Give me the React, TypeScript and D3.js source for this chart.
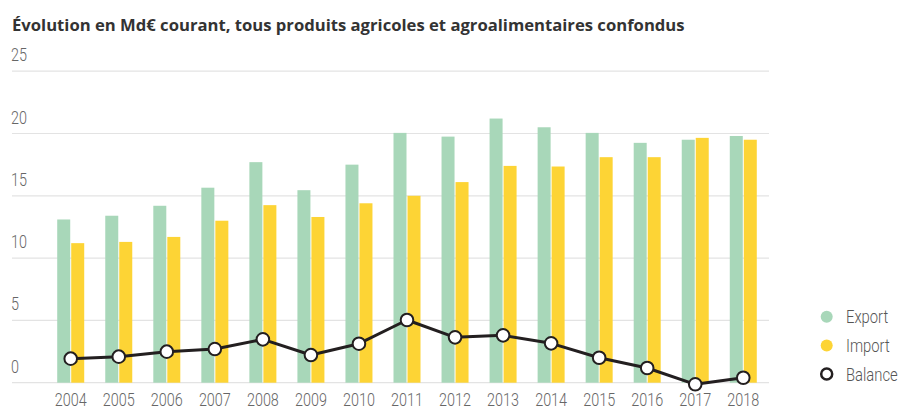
import React from "react";
import * as d3 from "d3";

const years = ["2004","2005","2006","2007","2008","2009","2010","2011","2012","2013","2014","2015","2016","2017","2018"];
const exportVals = [13.1,13.4,14.2,15.65,17.7,15.45,17.5,20.05,19.75,21.2,20.5,20.05,19.25,19.5,19.8];
const importVals = [11.2,11.3,11.7,13.0,14.25,13.3,14.4,15.0,16.1,17.4,17.35,18.1,18.1,19.65,19.5];
const balanceVals = [1.93,2.09,2.49,2.7,3.48,2.22,3.13,5.03,3.64,3.8,3.16,2.0,1.18,-0.13,0.4];
const yTicks = [0,5,10,15,20,25];
const seriesNames = ["Export","Import","Balance"];
const title = "Évolution en Md€ courant, tous produits agricoles et agroalimentaires confondus";

const W = 903, H = 410;
const GREEN = "#a8d7b9", YELLOW = "#fdd435", LINE = "#231f20";

function NText({ x, y, children, anchor = "start", fill = "#666", size = 18 }: { x: number; y: number; children: React.ReactNode; anchor?: string; fill?: string; size?: number }) {
  return (
    <g transform={`translate(${x},${y}) scale(0.8,1)`}>
      <text x={0} y={0} textAnchor={anchor as any} fontFamily="Roboto, sans-serif" fontWeight={300} fontSize={size} fill={fill}>{children}</text>
    </g>
  );
}

export default function App() {
  const y = d3.scaleLinear().domain([0, 25]).range([382.7, 71.2]);
  const x = d3.scaleBand().domain(years).range([46.7, 767.3]).paddingInner(0.44).paddingOuter(0.22);
  const center = (yr: string) => (x(yr) as number) + x.bandwidth() / 2;
  const bw = 13.5;
  const line = d3.line<number>().x((_, i) => center(years[i])).y(d => y(d));
  return (
    <svg width={W} height={H} style={{ position: "absolute", left: 0, top: 0, background: "#fff" }}>
      <text x={12} y={31} fontFamily="'Open Sans', 'Noto Sans', sans-serif" fontWeight={700} fontSize={16.65} fill="#333">{title}</text>
      {yTicks.map(t => (
        <g key={t}>
          <line x1={12} x2={769} y1={y(t)} y2={y(t)} stroke="#e3e3e3" strokeWidth={1.2} />
          <NText x={11} y={y(t) - 10}>{t}</NText>
        </g>
      ))}
      {years.map((yr, i) => (
        <g key={yr}>
          <rect x={center(yr) - bw} y={y(exportVals[i])} width={bw - 0.5} height={y(0) - y(exportVals[i])} fill={GREEN} />
          <rect x={center(yr) + 0.5} y={y(importVals[i])} width={bw - 0.5} height={y(0) - y(importVals[i])} fill={YELLOW} />
          <NText x={center(yr)} y={406} anchor="middle">{yr}</NText>
        </g>
      ))}
      <path d={line(balanceVals) as string} fill="none" stroke={LINE} strokeWidth={3} strokeLinejoin="round" />
      {balanceVals.map((v, i) => (
        <circle key={i} cx={center(years[i])} cy={y(v)} r={6.3} fill="#fff" stroke={LINE} strokeWidth={2} />
      ))}
      {seriesNames.map((n, i) => {
        const cy = 316.7 + i * 28.7;
        return (
          <g key={n}>
            {i < 2 ? (
              <circle cx={826.7} cy={cy} r={6} fill={i === 0 ? GREEN : YELLOW} />
            ) : (
              <circle cx={826.7} cy={cy} r={5.5} fill="#fff" stroke={LINE} strokeWidth={2.5} />
            )}
            <NText x={846} y={cy + 6.5} fill="#555" size={18.5}>{n}</NText>
          </g>
        );
      })}
    </svg>
  );
}
